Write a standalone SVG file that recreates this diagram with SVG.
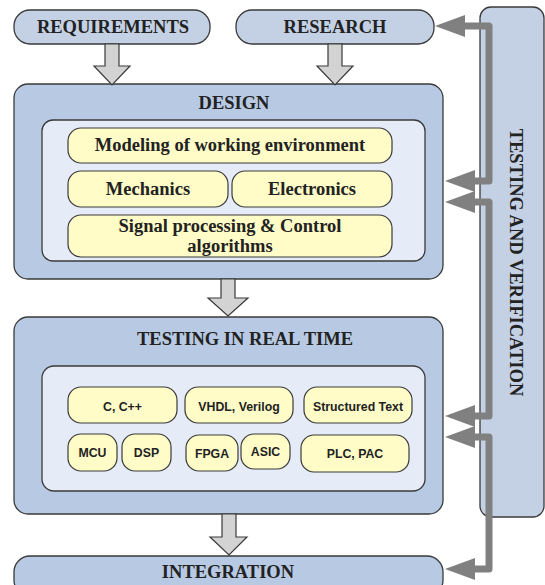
<svg xmlns="http://www.w3.org/2000/svg" width="545" height="585" viewBox="0 0 545 585">
<style>
.box{stroke:#3a3a3a;stroke-width:1.3}
.outer{fill:#b8cae3}
.top{fill:#c4d1e5}
.panel{fill:#e5ecf7}
.chip{fill:#fffcc8;stroke:#3a3a3a;stroke-width:1.2}
.barrow{fill:#d3d3d3;stroke:#3a3a3a;stroke-width:1.2;stroke-linejoin:miter}
.h{font-family:"Liberation Serif","Times New Roman",serif;font-weight:bold;font-size:18.5px;fill:#222;text-anchor:middle}
.s{font-family:"Liberation Sans",Arial,sans-serif;font-weight:bold;font-size:12.3px;fill:#222;text-anchor:middle}
.conn{fill:none;stroke:#808080;stroke-width:7;stroke-linejoin:round}
</style>
<defs>
<marker id="ah" markerUnits="userSpaceOnUse" markerWidth="30" markerHeight="22" refX="0" refY="11" orient="auto-start-reverse" viewBox="0 0 30 22">
<path d="M0,0 L30,11 L0,22 z" fill="#808080"/>
</marker>
</defs>

<g id="testing-verification">
<rect class="box top" x="480" y="7" width="64" height="510" rx="11"/>
<text class="h" transform="translate(510,262.5) rotate(90)">TESTING AND VERIFICATION</text>
</g>

<g id="requirements">
<rect class="box top" x="14" y="10" width="196" height="34" rx="16"/>
<text class="h" x="113" y="33">REQUIREMENTS</text>
</g>

<g id="research">
<rect class="box top" x="236" y="10" width="198" height="34" rx="16"/>
<text class="h" x="335" y="33">RESEARCH</text>
</g>

<g id="design">
<rect class="box outer" x="14" y="84" width="429" height="195" rx="14"/>
<text class="h" x="234" y="109">DESIGN</text>
<rect class="box panel" x="42" y="120" width="383" height="141" rx="11"/>
</g>
<g id="modeling">
<rect class="chip" x="68" y="128" width="324" height="35" rx="13"/>
<text class="h" x="230" y="151">Modeling of working environment</text>
</g>
<g id="mechanics">
<rect class="chip" x="68" y="171" width="160" height="36" rx="13"/>
<text class="h" x="148" y="195">Mechanics</text>
</g>
<g id="electronics">
<rect class="chip" x="232" y="171" width="160" height="36" rx="13"/>
<text class="h" x="312" y="195">Electronics</text>
</g>
<g id="signal">
<rect class="chip" x="68" y="215" width="324" height="42" rx="13"/>
<text class="h" x="230" y="232">Signal processing &amp; Control</text>
<text class="h" x="230" y="252">algorithms</text>
</g>

<g id="testing-real-time">
<rect class="box outer" x="14" y="317" width="429" height="197" rx="14"/>
<text class="h" x="245" y="345">TESTING IN REAL TIME</text>
<rect class="box panel" x="42" y="366" width="383" height="125" rx="12"/>
</g>
<g id="c-cpp">
<rect class="chip" x="68" y="387" width="109" height="36" rx="13"/>
<text class="s" x="122.5" y="411">C, C++</text>
</g>
<g id="vhdl">
<rect class="chip" x="185" y="387" width="108" height="36" rx="13"/>
<text class="s" x="239" y="411">VHDL, Verilog</text>
</g>
<g id="structured-text">
<rect class="chip" x="304" y="387" width="108" height="36" rx="13"/>
<text class="s" x="358" y="411">Structured Text</text>
</g>
<g id="mcu">
<rect class="chip" x="68" y="434" width="49" height="37" rx="13"/>
<text class="s" x="92.5" y="457">MCU</text>
</g>
<g id="dsp">
<rect class="chip" x="122" y="434" width="49" height="37" rx="13"/>
<text class="s" x="146.5" y="457">DSP</text>
</g>
<g id="fpga">
<rect class="chip" x="186" y="435" width="52" height="36" rx="13"/>
<text class="s" x="212" y="458">FPGA</text>
</g>
<g id="asic">
<rect class="chip" x="241" y="434" width="49" height="35" rx="13"/>
<text class="s" x="265.5" y="455.5">ASIC</text>
</g>
<g id="plc">
<rect class="chip" x="301" y="435" width="108" height="37" rx="13"/>
<text class="s" x="355" y="458">PLC, PAC</text>
</g>

<g id="integration">
<rect class="box outer" x="14" y="556" width="429" height="40" rx="16"/>
<text class="h" x="228" y="578">INTEGRATION</text>
</g>

<g id="connectors">
<polygon class="barrow" points="105,44 119,44 119,66 130,66 112,85 94,66 105,66"/>
<polygon class="barrow" points="328,44 342,44 342,66 353,66 335,85 317,66 328,66"/>
<polygon class="barrow" points="221,279 235,279 235,298 248,298 228,316 208,298 221,298"/>
<polygon class="barrow" points="222,514 236,514 236,537 247,537 229,555 210,537 222,537"/>
<polyline class="conn" points="475,181 489,181 489,26 465,26" marker-start="url(#ah)" marker-end="url(#ah)"/>
<polyline class="conn" points="475,202 489,202 489,416 475,416" marker-start="url(#ah)" marker-end="url(#ah)"/>
<polyline class="conn" points="475,437 489,437 489,569 475,569" marker-start="url(#ah)" marker-end="url(#ah)"/>
</g>
</svg>
